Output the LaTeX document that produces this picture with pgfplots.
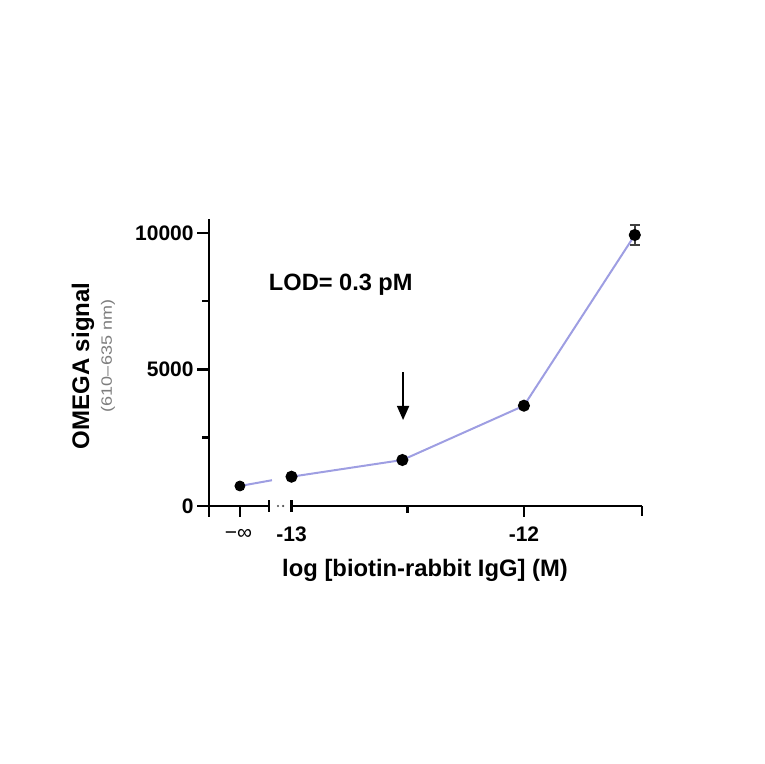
\documentclass[border=0pt]{standalone}
\usepackage{pgfplots}
\pgfplotsset{compat=1.18}
\usepackage{fontspec}
\setmainfont{Liberation Sans}
\usetikzlibrary{arrows.meta}
\definecolor{lav}{RGB}{158,158,226}
\definecolor{grytxt}{RGB}{125,125,125}

\begin{document}
\begin{tikzpicture}
\begin{axis}[
    at={(104.5pt,123.5pt)}, anchor=south west,
    scale only axis,
    width=216.5pt, height=149pt,
    xmin=-13.355, xmax=-11.492,
    ymin=-403, ymax=10513,
    axis x line=none,
    axis y line=left,
    axis line style={-, line width=1.25pt},
    xtick=\empty,
    ytick={0,5000,10000},
    yticklabels={0,5000,10000},
    scaled y ticks=false,
    minor ytick={2500,7500},
    tick align=outside,
    major tick length=6pt,
    minor tick length=3.5pt,
    every tick/.style={black, line width=1.25pt},
    yticklabel style={font=\fontsize{10.5}{12}\selectfont\bfseries, inner sep=1.5pt},
    clip=false
]
% broken x axis, drawn at y = 0
\draw[line width=1.25pt] ([xshift=-6pt]axis cs:-13.355,0) -- (axis cs:-13.097,0);
\draw[line width=1.25pt] (axis cs:-13,0) -- (axis cs:-11.492,0);
\draw[line width=1.25pt] ([yshift=-2.8pt]axis cs:-13.097,0) -- ([yshift=2.8pt]axis cs:-13.097,0);
\draw[line width=1.25pt] ([yshift=-2.8pt]axis cs:-13,0) -- ([yshift=2.8pt]axis cs:-13,0);
\fill[black!70] (axis cs:-13.058,0) circle (0.6pt);
\fill[black!70] (axis cs:-13.036,0) circle (0.6pt);
% x ticks
\draw[line width=1.25pt] (axis cs:-13.222,0) -- ([yshift=-5.5pt]axis cs:-13.222,0);
\draw[line width=1.25pt] (axis cs:-12,0) -- ([yshift=-5.5pt]axis cs:-12,0);
\draw[line width=1.25pt] (axis cs:-12.5,0) -- ([yshift=-3.5pt]axis cs:-12.5,0);
\draw[line width=1.25pt] (axis cs:-11.492,0) -- ([yshift=-5pt]axis cs:-11.492,0);
% x tick labels
\node[font=\fontsize{10.5}{12}\selectfont] at ([yshift=-14pt]axis cs:-13.228,0) {−∞};
\node[font=\fontsize{10.5}{12}\selectfont\bfseries] at ([yshift=-14pt]axis cs:-13,0) {-13};
\node[font=\fontsize{10.5}{12}\selectfont\bfseries] at ([yshift=-14pt]axis cs:-12,0) {-12};

% partial segment from the -infinity point towards the break
\addplot[lav, line width=1pt, forget plot] coordinates {(-13.222,733) (-13.084,944)};
% main curve
\addplot[lav, line width=1pt, mark=*, mark size=2.5pt,
         mark options={fill=black, draw=black}]
    coordinates {(-13,1073) (-12.523,1685) (-12,3674) (-11.523,9927)};
% -infinity point
\addplot[only marks, mark=*, mark size=2.5pt, mark options={fill=black, draw=black}]
    coordinates {(-13.222,733)};
% error bar on the top point
\addplot[only marks, mark=*, mark size=2.5pt, mark options={fill=black, draw=black},
         error bars/.cd, y dir=both, y explicit,
         error bar style={line width=0.7pt, black!75},
         error mark options={rotate=90, mark size=2.5pt, line width=0.7pt, black!75}]
    coordinates {(-11.523,9927) +- (0,366)};

% LOD annotation
\node[font=\fontsize{11.8}{14}\selectfont\bfseries] at (axis cs:-12.788,8100) {LOD= 0.3 pM};
\draw[line width=0.8pt, -{Triangle[length=7pt, width=6pt]}] (axis cs:-12.52,4908) -- (axis cs:-12.52,3150);
\end{axis}

% axis titles
\node[rotate=90, font=\fontsize{12}{14}\selectfont\bfseries] at (41.5pt,199pt) {OMEGA signal};
\node[rotate=90, text=grytxt, font=\fontsize{7.5}{9}\selectfont] at (54pt,204pt) {\scalebox{1.2}[1]{(610–635 nm)}};
\node[font=\fontsize{11.9}{14}\selectfont\bfseries] at (212.5pt,97pt) {log [biotin-rabbit IgG] (M)};

\pgfresetboundingbox
\path[use as bounding box] (0,0) rectangle (382pt,382pt);
\end{tikzpicture}
\end{document}
